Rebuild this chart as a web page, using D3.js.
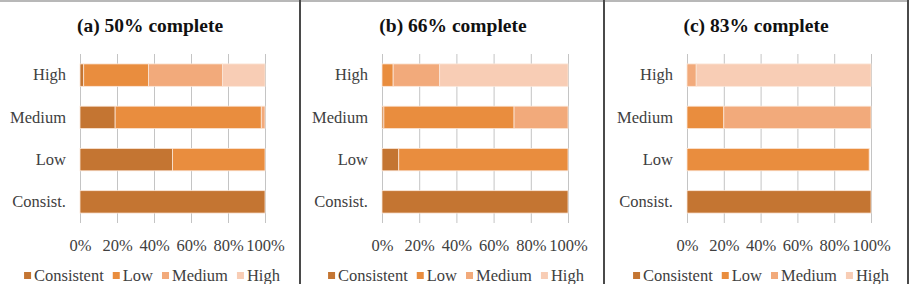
<!DOCTYPE html>
<html><head><meta charset="utf-8">
<script src="https://cdn.jsdelivr.net/npm/d3@7/dist/d3.min.js"></script>
<style>body{margin:0;background:#fff}svg{display:block}</style>
</head><body><svg id="c" width="918" height="284"></svg>
<script>
// ---- data ----
const categories = ["Consist.", "Low", "Medium", "High"];
const seriesNames = ["Consistent", "Low", "Medium", "High"];
const xTicks = [0, 20, 40, 60, 80, 100];
const titles = ["(a) 50% complete", "(b) 66% complete", "(c) 83% complete"];

// panel (a)
const consistentA = [100, 50, 19, 2];
const lowA        = [0, 50, 79, 35];
const mediumA     = [0, 0, 2, 40];
const highA       = [0, 0, 0, 23];
// panel (b)
const consistentB = [100, 9, 1, 0];
const lowB        = [0, 91, 70, 6];
const mediumB     = [0, 0, 29, 25];
const highB       = [0, 0, 0, 69];
// panel (c)
const consistentC = [100, 0, 0, 0];
const lowC        = [0, 99, 20, 0];
const mediumC     = [0, 0, 80, 5];
const highC       = [0, 0, 0, 95];

const panelData = [
  [consistentA, lowA, mediumA, highA],
  [consistentB, lowB, mediumB, highB],
  [consistentC, lowC, mediumC, highC]
];

// ---- layout ----
const colors = ["#C47532", "#E98D3E", "#F2AA7B", "#F8CDB5"];
const panels = [
  {px: [80, 265],  cx: 152},
  {px: [382, 568], cx: 456},
  {px: [687, 871], cx: 761}
];
const titleCx = [150, 453, 756];
const yTop = 54, yBot = 223;
const font = "Liberation Serif";
const textCol = "#404040";

const svg = d3.select("#c");
svg.append("rect").attr("width", 918).attr("height", 284).attr("fill", "#fff");

// frame
svg.append("line").attr("x1", 0).attr("x2", 907).attr("y1", 1).attr("y2", 1)
  .attr("stroke", "#a0a0a0").attr("stroke-width", 1.5);
[300, 604, 908].forEach(x => {
  svg.append("line").attr("x1", x).attr("x2", x).attr("y1", 0).attr("y2", 284)
    .attr("stroke", "#4a4a4a").attr("stroke-width", 2);
});

panels.forEach((p, i) => {
  const g = svg.append("g");
  const x = d3.scaleLinear().domain([0, 100]).range(p.px);
  const y = d3.scaleBand().domain(categories.slice().reverse()).range([yTop, yBot])
    .paddingInner(0.47).paddingOuter(0.235);

  // title
  g.append("text").attr("x", titleCx[i]).attr("y", 32).attr("text-anchor", "middle")
    .style("font-family", font).style("font-weight", "bold").style("font-size", "19.5px")
    .attr("fill", "#111").text(titles[i]);

  // x axis with gridlines
  const xa = g.append("g").attr("transform", `translate(0,${yBot})`)
    .call(d3.axisBottom(x).tickValues(xTicks).tickFormat(d => d + "%")
      .tickSizeInner(-(yBot - yTop)).tickSizeOuter(0).tickPadding(16));
  xa.attr("font-family", null).attr("font-size", null);
  xa.select(".domain").remove();
  xa.selectAll(".tick line").attr("stroke", "#c4c4c4").attr("stroke-width", 1);
  xa.selectAll(".tick text").style("font-family", font).style("font-size", "16.5px")
    .attr("fill", textCol);

  // y axis labels
  const ya = g.append("g").attr("transform", `translate(${p.px[0]},0)`)
    .call(d3.axisLeft(y).tickSize(0).tickPadding(14));
  ya.attr("font-family", null).attr("font-size", null);
  ya.select(".domain").remove();
  ya.selectAll(".tick text").style("font-family", font).style("font-size", "16.5px")
    .attr("fill", textCol);

  // stacked bars
  const rows = categories.map((c, ci) => {
    const o = {cat: c};
    seriesNames.forEach((s, si) => o[s] = panelData[i][si][ci]);
    return o;
  });
  const stacked = d3.stack().keys(seriesNames)(rows);
  stacked.forEach((layer, si) => {
    g.append("g").selectAll("rect").data(layer.filter(d => d[1] - d[0] > 0)).join("rect")
      .attr("x", d => x(d[0]))
      .attr("width", d => x(d[1]) - x(d[0]))
      .attr("y", d => y(d.data.cat))
      .attr("height", y.bandwidth())
      .attr("fill", colors[si])
      .attr("stroke", "#fbe6d8").attr("stroke-width", 0.8);
  });

  // legend
  const lg = g.append("g");
  const tmp = [];
  seriesNames.forEach((s, si) => {
    const t = lg.append("text").attr("y", 281).attr("fill", textCol)
      .style("font-family", font).style("font-size", "16.5px").text(s);
    const w = t.node().getComputedTextLength();
    tmp.push({t, w, si});
  });
  const sq = 7, gapSq = 3, gapItem = 9;
  const total = tmp.reduce((a, d) => a + sq + gapSq + d.w, 0) + gapItem * (tmp.length - 1);
  let cur = p.cx - total / 2;
  tmp.forEach(d => {
    lg.append("rect").attr("x", cur).attr("y", 272).attr("width", sq).attr("height", sq)
      .attr("fill", colors[d.si]);
    d.t.attr("x", cur + sq + gapSq);
    cur += sq + gapSq + d.w + gapItem;
  });
});
</script>
</body></html>
